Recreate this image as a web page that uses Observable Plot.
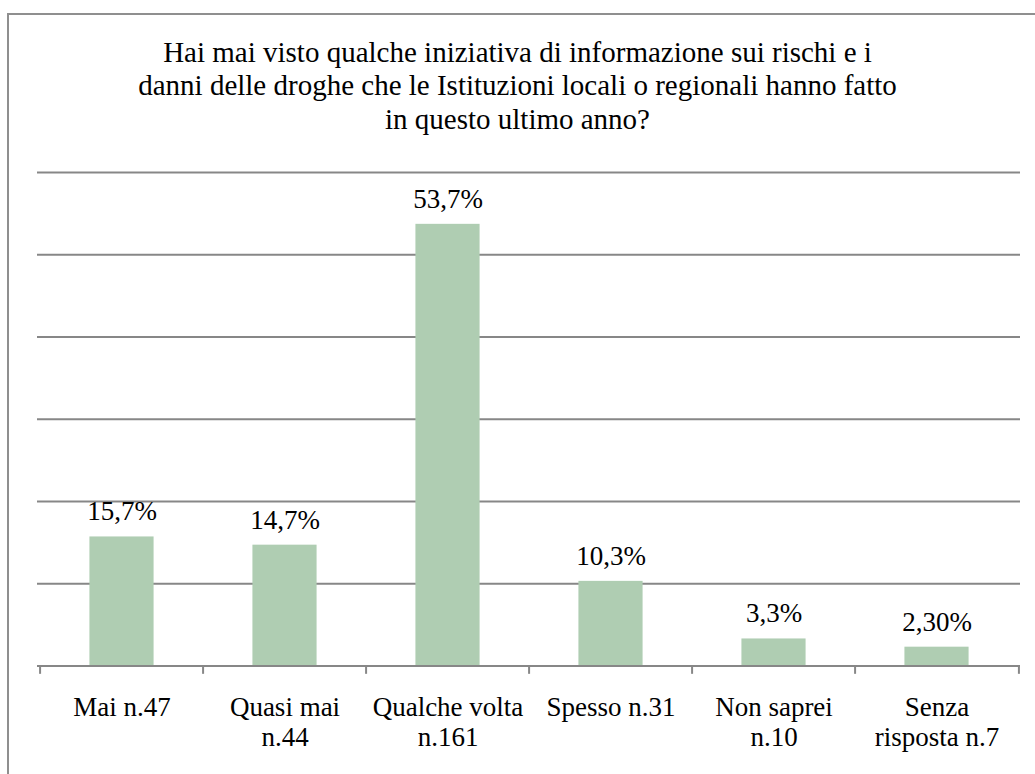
<!DOCTYPE html>
<html>
<head>
<meta charset="utf-8">
<script src="https://cdn.jsdelivr.net/npm/d3@7"></script>
<script src="https://cdn.jsdelivr.net/npm/@observablehq/plot@0.6"></script>
<style>
  html, body { margin: 0; padding: 0; background: #fff; }
  body { width: 1035px; height: 774px; overflow: hidden; position: relative; font-family: "Liberation Serif", serif; }
  #frame { position: absolute; left: 7px; top: 13px; width: 1100px; height: 900px;
           border-left: 2px solid #8f8f8f; border-top: 2px solid #8f8f8f; box-sizing: border-box; }
  #title { position: absolute; left: 0; top: 36px; width: 1035px; text-align: center;
           font-size: 29px; line-height: 33.4px; color: #000; }
  #chart { position: absolute; left: 0; top: 150px; }
</style>
</head>
<body>
<div id="frame"></div>
<div id="title">Hai mai visto qualche iniziativa di informazione sui rischi e i<br>danni delle droghe che le Istituzioni locali o regionali hanno fatto<br>in questo ultimo anno?</div>
<div id="chart"></div>
<script>
const categories = ["Mai n.47", "Quasi mai n.44", "Qualche volta n.161", "Spesso n.31", "Non saprei n.10", "Senza risposta n.7"];
const categoryLabels = ["Mai n.47", "Quasi mai\nn.44", "Qualche volta\nn.161", "Spesso n.31", "Non saprei\nn.10", "Senza\nrisposta n.7"];
const values = [15.7, 14.7, 53.7, 10.3, 3.3, 2.3];
const valueLabels = ["15,7%", "14,7%", "53,7%", "10,3%", "3,3%", "2,30%"];
const gridTicks = [10, 20, 30, 40, 50, 60];

const data = categories.map((c, i) => ({cat: c, label: categoryLabels[i], value: values[i], vlabel: valueLabels[i]}));

const W = 1035, H = 624, mL = 37, mR = 15, mT = 22, mB = 108.4;
const bw = (W - mL - mR) / categories.length;
const barW = 65;
const inset = (bw - barW) / 2;
const gray = "#878787";

const chart = Plot.plot({
  width: W,
  height: H,
  marginLeft: mL,
  marginRight: mR,
  marginTop: mT,
  marginBottom: mB,
  style: {fontFamily: "Liberation Serif, serif", fontSize: "27px", color: "#000", background: "transparent", overflow: "visible"},
  x: {domain: categories, padding: 0, axis: null},
  y: {domain: [0, 60], axis: null},
  marks: [
    Plot.ruleY(gridTicks, {stroke: gray, strokeWidth: 2}),
    Plot.barY(data, {x: "cat", y: "value", fill: "#afcdb2", insetLeft: inset, insetRight: inset}),
    Plot.ruleY([0], {stroke: gray, strokeWidth: 2}),
    Plot.ruleX(data, {x: "cat", y1: 0, y2: -1, dx: -bw / 2, stroke: gray, strokeWidth: 2}),
    Plot.ruleX(data.slice(-1), {x: "cat", y1: 0, y2: -1, dx: bw / 2, stroke: gray, strokeWidth: 2}),
    Plot.text(data, {x: "cat", y: "value", text: "vlabel", lineAnchor: "bottom", dy: -16.5, fontSize: 27, fill: "#000"}),
    Plot.text(data, {x: "cat", y: 0, text: "label", lineAnchor: "top", lineHeight: 1.11, dy: 29, fontSize: 27, fill: "#000"})
  ]
});
document.getElementById("chart").appendChild(chart);
</script>
</body>
</html>
